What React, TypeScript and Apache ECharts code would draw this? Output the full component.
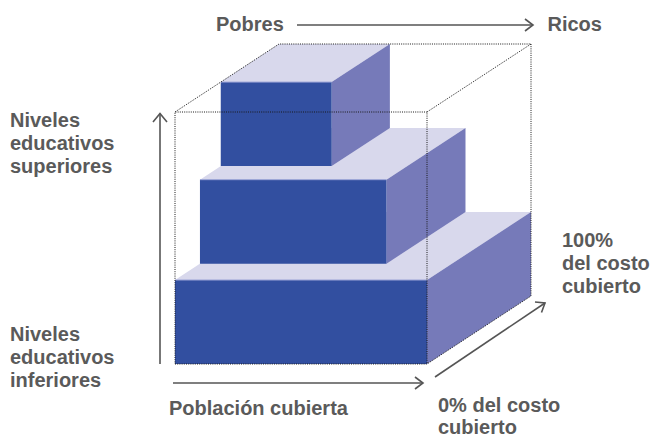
import React, { useEffect, useRef } from "react";
import * as echarts from "echarts";

// Tiers of the education pyramid (bottom to top)
const tiers = ["Niveles educativos inferiores", "Niveles educativos medios", "Niveles educativos superiores"];
const levelStart = [0, 1, 2];
const levelEnd = [1, 2, 3];
// share of population covered (x extent, %)
const populationCovered = [100, 74, 44];
// share of cost covered (depth extent, %)
const costCovered = [100, 76, 56];

// Frame extent
const frameMaxPopulation = 100;
const frameMaxLevel = 3;

// Text labels
const labelPoor = "Pobres";
const labelRich = "Ricos";
const labelUpper = "Niveles\neducativos\nsuperiores";
const labelLower = "Niveles\neducativos\ninferiores";
const labelFull = "100%\ndel costo\ncubierto";
const labelZero = "0% del costo\ncubierto";
const labelPopulation = "Población cubierta";

// Oblique projection of the depth axis (pixels for full depth)
const DX = 104;
const DY = -68;

const FRONT = "#324fa0";
const SIDE = "#767ab9";
const TOP = "#d8d8ec";
const TEXT = "#5a5a5a";
const ARROW = "#555555";
const FONT = '"Liberation Sans", Arial, sans-serif';

export default function App() {
  const ref = useRef<HTMLDivElement>(null);
  useEffect(() => {
    if (!ref.current) return;
    const chart = echarts.init(ref.current, undefined, { renderer: "svg" });

    const boxData = tiers.map((name, i) => ({
      name,
      value: [i, populationCovered[i], levelStart[i], levelEnd[i], costCovered[i]],
    }));

    const proj = (api: any, x: number, y: number, z: number) => {
      const p = api.coord([x, y]);
      return [p[0] + z * DX, p[1] + z * DY];
    };

    const renderBox = (params: any, api: any) => {
      const x1 = api.value(1);
      const y0 = api.value(2);
      const y1 = api.value(3);
      const c = api.value(4);
      const z0 = 1 - c / 100;
      const z1 = 1;
      const P = (x: number, y: number, z: number) => proj(api, x, y, z);
      return {
        type: "group",
        children: [
          {
            type: "polygon",
            shape: { points: [P(0, y1, z0), P(x1, y1, z0), P(x1, y1, z1), P(0, y1, z1)] },
            style: { fill: TOP },
          },
          {
            type: "polygon",
            shape: { points: [P(x1, y0, z0), P(x1, y0, z1), P(x1, y1, z1), P(x1, y1, z0)] },
            style: { fill: SIDE },
          },
          {
            type: "polygon",
            shape: { points: [P(0, y0, z0), P(x1, y0, z0), P(x1, y1, z0), P(0, y1, z0)] },
            style: { fill: FRONT },
          },
          {
            type: "line",
            shape: (() => {
              const a = P(0, y1, z0);
              const b = P(x1, y1, z0);
              return { x1: a[0], y1: a[1], x2: b[0], y2: b[1] };
            })(),
            style: { stroke: "#9aa3d6", lineWidth: 1 },
          },
        ],
      };
    };

    const renderFrame = (params: any, api: any) => {
      const X = api.value(0);
      const Y = api.value(1);
      const P = (x: number, y: number, z: number) => proj(api, x, y, z);
      const dot = { stroke: "#1a1a1a", lineWidth: 1, lineDash: [1, 1.2], fill: null };
      const pl = (pts: number[][]) => ({ type: "polyline", shape: { points: pts }, style: dot });
      return {
        type: "group",
        children: [
          pl([P(0, 0, 0), P(X, 0, 0), P(X, Y, 0), P(0, Y, 0), P(0, 0, 0)]),
          pl([P(0, Y, 0), P(0, Y, 1), P(X, Y, 1), P(X, 0, 1), P(X, 0, 0)]),
          pl([P(X, Y, 0), P(X, Y, 1)]),
        ],
      };
    };

    const txt = (text: string, x: number, y: number, lh = 23) => ({
      type: "text",
      x,
      y,
      style: {
        text,
        fill: TEXT,
        fontSize: 20,
        fontWeight: "bold",
        fontFamily: FONT,
        lineHeight: lh,
        verticalAlign: "top",
        align: "left",
      },
    });
    const arrowStyle = { stroke: ARROW, lineWidth: 1.6, fill: null };
    const line = (a: number[], b: number[]) => ({
      type: "line",
      shape: { x1: a[0], y1: a[1], x2: b[0], y2: b[1] },
      style: arrowStyle,
    });
    const head = (pts: number[][]) => ({ type: "polyline", shape: { points: pts }, style: arrowStyle });

    chart.setOption({
      animation: false,
      grid: { left: 175, right: 227, top: 112, bottom: 73 },
      xAxis: { type: "value", min: 0, max: frameMaxPopulation, show: false },
      yAxis: { type: "value", min: 0, max: frameMaxLevel, show: false },
      tooltip: { show: false },
      series: [
        {
          type: "custom",
          name: "tiers",
          renderItem: renderBox,
          data: boxData,
          clip: false,
          silent: true,
          z: 2,
        },
        {
          type: "custom",
          name: "frame",
          renderItem: renderFrame,
          data: [[frameMaxPopulation, frameMaxLevel]],
          clip: false,
          silent: true,
          z: 3,
        },
      ],
      graphic: [
        txt(labelPoor, 216, 12.6),
        txt(labelRich, 547.5, 12.6),
        txt(labelUpper, 10, 108.6),
        txt(labelLower, 10, 322.6),
        txt(labelFull, 562, 228.6),
        txt(labelPopulation, 169, 396.6),
        txt(labelZero, 438, 394, 22),
        line([297, 25], [533, 25]),
        head([[525, 19], [533, 25], [525, 31]]),
        line([160, 364], [160, 113.5]),
        head([[153, 122], [160, 113.5], [167, 122]]),
        line([173, 383], [423, 383]),
        head([[415, 377], [423, 383], [415, 389]]),
        line([435, 377], [545, 303]),
        head([[535, 302], [545, 303], [541.5, 312.5]]),
      ],
    });
    return () => chart.dispose();
  }, []);
  return <div ref={ref} style={{ width: 654, height: 437, position: "absolute", left: 0, top: 0 }} />;
}
